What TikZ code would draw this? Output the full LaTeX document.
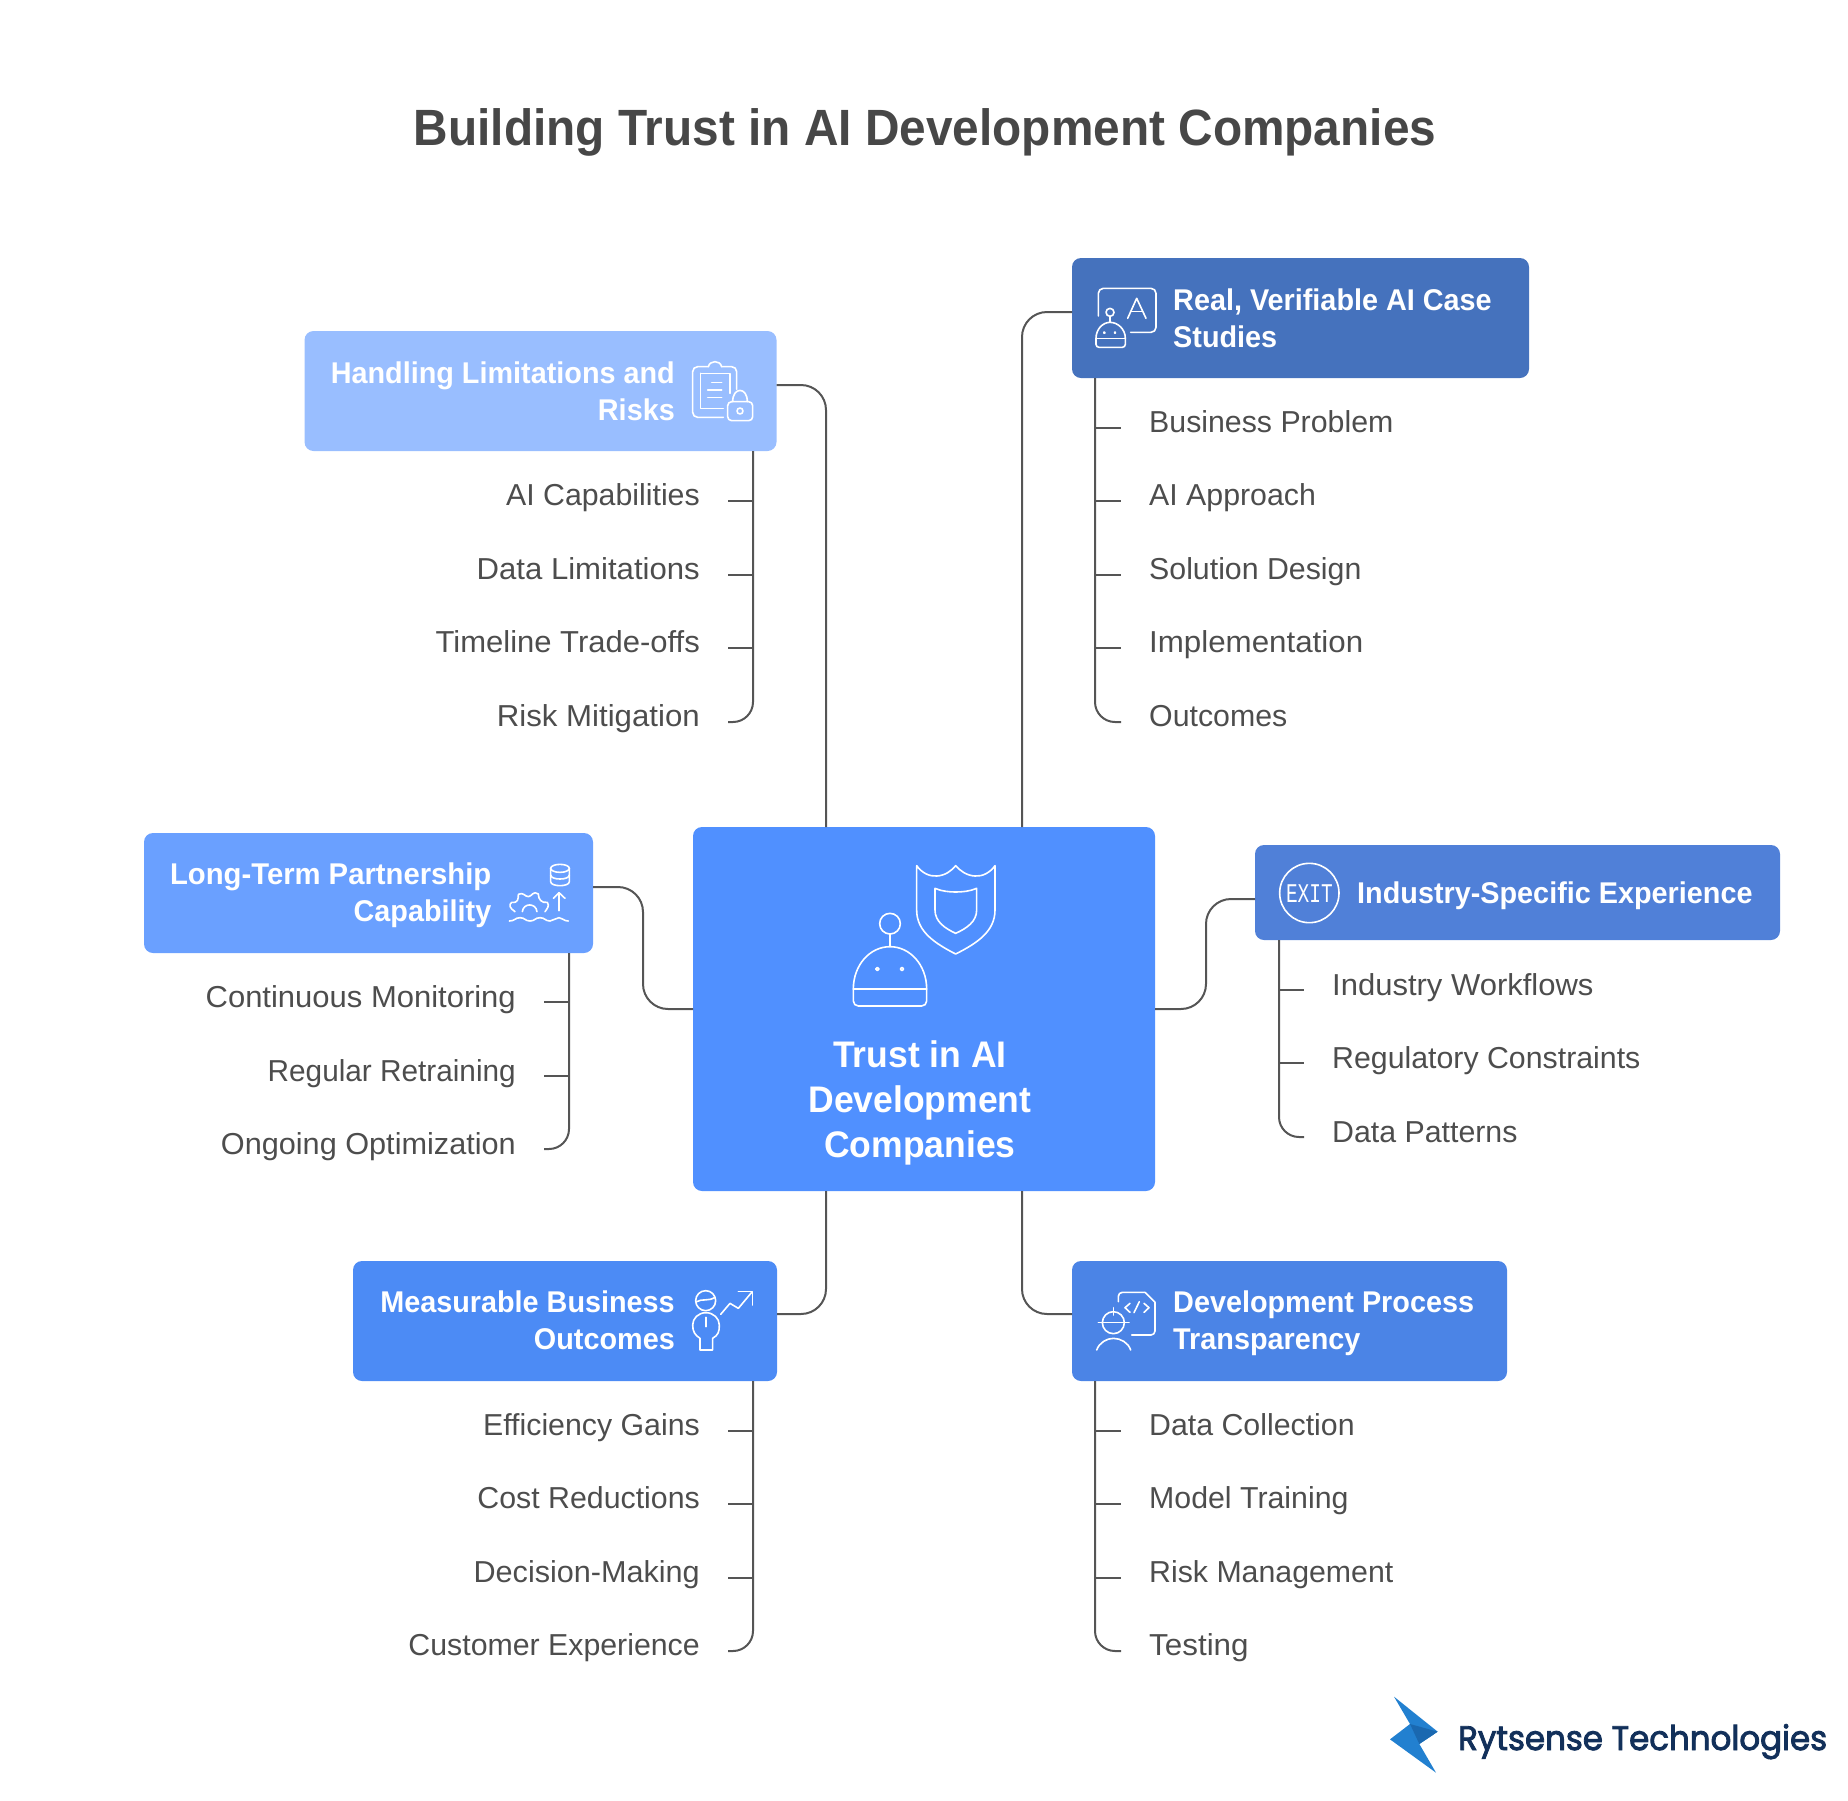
\documentclass[tikz,border=0pt]{standalone}
\usepackage{fontspec}
\setmainfont{Liberation Sans}
\newfontfamily\boldf[FakeStretch=.96]{Liberation Sans Bold}
\newfontfamily\titlef[FakeStretch=.937]{Liberation Sans Bold}
\newfontfamily\exitf[FakeStretch=.72]{Liberation Mono}
\newfontfamily\logof[FakeBold=2.5,FakeStretch=.955]{Poppins}
\newcommand{\sx}[2]{{\addfontfeature{FakeStretch=#1}#2}}
\newcommand{\leafdy}{4}
\definecolor{txt}{HTML}{4D4D4D}
\definecolor{ttl}{HTML}{474747}
\definecolor{line}{HTML}{555555}
\definecolor{cMain}{HTML}{5090FF}
\definecolor{cHand}{HTML}{99BEFF}
\definecolor{cReal}{HTML}{4572BD}
\definecolor{cInd}{HTML}{5080D8}
\definecolor{cLong}{HTML}{6AA0FF}
\definecolor{cMeas}{HTML}{4C8BF5}
\definecolor{cDev}{HTML}{4B84E6}
\definecolor{cLogoA}{HTML}{2280D0}
\definecolor{cLogoB}{HTML}{1A68B0}
\definecolor{cLogoT}{HTML}{12305A}
\tikzset{
  conn/.style={draw=line,line width=2pt},
  curved/.style={conn,rounded corners=25pt},
  hook/.style={conn,rounded corners=20pt},
  boxn/.style={rounded corners=9pt,inner sep=0pt,draw=none},
  hd/.style={text=white,inner sep=0pt,font=\boldf\fontsize{30}{37}\selectfont},
  leaftxt/.style={text=txt,inner sep=0pt,font=\fontsize{30.3}{36}\selectfont},
  icon/.style={draw=white,line width=1.6pt,line cap=round,line join=round},
}
\newcommand{\leafR}[4]{% name, tick x, tick y, text: text to the right of the tick
  \coordinate (#1t) at (#2,#3);
  \node[leaftxt,anchor=base west] (#1) at (#2+28,#3+\leafdy) {#4};}
\newcommand{\leafL}[4]{% text to the left of the tick
  \coordinate (#1t) at (#2,#3);
  \node[leaftxt,anchor=base east] (#1) at (#2-28,#3+\leafdy) {#4};}
\begin{document}
\begin{tikzpicture}[x=1pt,y=-1pt]
\useasboundingbox (0,0) rectangle (1848,1800);

\node[text=ttl,inner sep=0pt,anchor=base,font=\titlef\fontsize{51}{60}\selectfont] (title) at (925,145) {Building Trust in AI Development Companies};

% boxes
\node[boxn,fill=cMain,minimum width=462pt,minimum height=364pt] (main) at (924,1009) {};
\node[boxn,fill=cHand,minimum width=472pt,minimum height=120pt] (hand) at (540.5,391) {};
\node[boxn,fill=cReal,minimum width=457pt,minimum height=120pt] (real) at (1300.5,318) {};
\node[boxn,fill=cInd,minimum width=525pt,minimum height=95pt] (ind) at (1517.5,892.5) {};
\node[boxn,fill=cLong,minimum width=449pt,minimum height=120pt] (long) at (368.5,893) {};
\node[boxn,fill=cMeas,minimum width=424pt,minimum height=120pt] (meas) at (565,1321) {};
\node[boxn,fill=cDev,minimum width=435pt,minimum height=120pt] (dev) at (1289.5,1321) {};

% heading texts
\node[hd,align=center,font=\boldf\fontsize{37}{45}\selectfont] (maintxt) at (920,1103) {Trust in AI\\Development\\Companies};
\node[hd,align=right,anchor=east] (handtxt) at (675,391) {Handling Limitations and\\Risks};
\node[hd,align=left,anchor=west] (realtxt) at (1173,318) {Real, Verifiable AI Case\\Studies};
\node[hd,anchor=west] (indtxt) at (1357,896) {Industry-Specific Experience};
\node[hd,align=right,anchor=east] (longtxt) at (491.5,895.5) {\sx{.975}{Long-Term Partnership}\\Capability};
\node[hd,align=right,anchor=east] (meastxt) at (675,1320.5) {Measurable Business\\Outcomes};
\node[hd,align=left,anchor=west] (devtxt) at (1173,1323.5) {Development Process\\Transparency};

% connector anchors
\coordinate (mTL) at (826,827);
\coordinate (mTR) at (1022,827);
\coordinate (mBL) at (826,1191);
\coordinate (mBR) at (1022,1191);
\coordinate (mL) at (693,1009);
\coordinate (mR) at (1155,1009);
\coordinate (handout) at (776.5,385);
\coordinate (realin) at (1072,312);
\coordinate (indin) at (1255,899);
\coordinate (longin) at (593,887);
\coordinate (measin) at (777,1314);
\coordinate (devin) at (1072,1314);
\coordinate (indmid) at (1206,0);
\coordinate (longmid) at (643,0);

\draw[curved] (handout) -| (mTL);
\draw[curved] (realin) -| (mTR);
\draw[curved] (measin) -| (mBL);
\draw[curved] (devin) -| (mBR);
\draw[curved] (mR) -- (mR -| indmid) -- (indin -| indmid) -- (indin);
\draw[curved] (mL) -- (mL -| longmid) -- (longin -| longmid) -- (longin);

% leaves: Real
\coordinate (rtop) at (1095,378);
\leafR{r1}{1121}{428}{Business Problem}
\leafR{r2}{1121}{501}{AI Approach}
\leafR{r3}{1121}{575}{Solution Design}
\leafR{r4}{1121}{648}{\sx{1.033}{Implementation}}
\leafR{r5}{1121}{722}{Outcomes}
\foreach \n in {r1,r2,r3,r4} \draw[conn] (rtop |- \n t) -- (\n t);
\draw[hook] (rtop) |- (r5t);

% leaves: Handling
\coordinate (htop) at (753,451);
\leafL{h1}{728}{501}{AI Capabilities}
\leafL{h2}{728}{575}{\sx{1.027}{Data Limitations}}
\leafL{h3}{728}{648}{\sx{1.023}{Timeline Trade-offs}}
\leafL{h4}{728}{722}{\sx{1.03}{Risk Mitigation}}
\foreach \n in {h1,h2,h3} \draw[conn] (htop |- \n t) -- (\n t);
\draw[hook] (htop) |- (h4t);

\renewcommand{\leafdy}{5}
% leaves: Long-term
\coordinate (ltop) at (569,953);
\leafL{l1}{544}{1002}{\sx{1.023}{Continuous Monitoring}}
\leafL{l2}{544}{1076}{\sx{.982}{Regular Retraining}}
\leafL{l3}{544}{1149}{\sx{1.012}{Ongoing Optimization}}
\foreach \n in {l1,l2} \draw[conn] (ltop |- \n t) -- (\n t);
\draw[hook] (ltop) |- (l3t);

% leaves: Industry
\coordinate (itop) at (1279,940);
\leafR{i1}{1304}{990}{\sx{1.023}{Industry Workflows}}
\leafR{i2}{1304}{1063}{Regulatory Constraints}
\leafR{i3}{1304}{1137}{Data Patterns}
\foreach \n in {i1,i2} \draw[conn] (itop |- \n t) -- (\n t);
\draw[hook] (itop) |- (i3t);
\renewcommand{\leafdy}{4}

% leaves: Measurable
\coordinate (mtop) at (753,1381);
\leafL{m1}{728}{1431}{Efficiency Gains}
\leafL{m2}{728}{1504}{Cost Reductions}
\leafL{m3}{728}{1578}{\sx{1.01}{Decision-Making}}
\leafL{m4}{728}{1651}{Customer Experience}
\foreach \n in {m1,m2,m3} \draw[conn] (mtop |- \n t) -- (\n t);
\draw[hook] (mtop) |- (m4t);

% leaves: Development
\coordinate (dtop) at (1095,1381);
\leafR{d1}{1121}{1431}{Data Collection}
\leafR{d2}{1121}{1504}{Model Training}
\leafR{d3}{1121}{1578}{Risk Management}
\leafR{d4}{1121}{1651}{\sx{1.035}{Testing}}
\foreach \n in {d1,d2,d3} \draw[conn] (dtop |- \n t) -- (\n t);
\draw[hook] (dtop) |- (d4t);

% icon: centre
\begin{scope}[shift={(680,820)},x=0.33333pt,y=-0.33333pt,icon]
  \draw (710,137) .. controls (725,158) and (748,170) .. (770,168) .. controls (795,167) and (815,152) .. (827,137)
        .. controls (840,152) and (860,167) .. (885,168) .. controls (907,170) and (930,158) .. (945,137)
        -- (945,270) .. controls (945,335) and (890,370) .. (827,402) .. controls (765,370) and (710,335) .. (710,270) -- cycle;
  \draw (765,205) .. controls (785,214) and (810,216) .. (827,216) .. controls (845,216) and (870,214) .. (890,205)
        -- (890,270) .. controls (890,305) and (860,325) .. (827,340) .. controls (795,325) and (765,305) .. (765,270) -- cycle;
  \draw (630,311) circle[radius=31];
  \draw (630,342) -- (630,380);
  \draw (520,507) .. controls (520,435) and (570,380) .. (630,380) .. controls (690,380) and (740,435) .. (740,507);
  \draw[rounded corners=5pt] (520,507) -- (520,558) -- (740,558) -- (740,507);
  \draw (520,507) -- (740,507);
  \draw (592,447) circle[radius=5];
  \draw (666,447) circle[radius=5];
\end{scope}

% icon: real
\begin{scope}[shift={(1060,250)},x=0.33333pt,y=-0.33333pt,icon]
  \draw[rounded corners=5pt] (115,198) -- (115,115) -- (288,115) -- (288,247) -- (212,247);
  \draw (203,205) -- (230,145) -- (258,205);
  \draw (212,185) -- (248,185);
  \draw (150,187) circle[radius=12];
  \draw (150,199) -- (150,217);
  \draw (108,265) .. controls (108,238) and (128,217) .. (150,217) .. controls (174,217) and (196,238) .. (196,265);
  \draw[rounded corners=3pt] (108,265) -- (108,292) -- (196,292) -- (196,265);
  \draw (108,265) -- (196,265);
  \draw (133,248) circle[radius=2];
  \draw (165,248) circle[radius=2];
\end{scope}

% icon: handling
\begin{scope}[shift={(660,330)},x=0.33333pt,y=-0.33333pt,icon]
  \draw[rounded corners=5pt] (190,262) -- (98,262) -- (98,110) -- (145,110);
  \draw (145,110) .. controls (150,90) and (180,90) .. (185,110);
  \draw[rounded corners=5pt] (185,110) -- (230,110) -- (230,178);
  \draw (122,130) -- (122,235) -- (190,235);
  \draw (122,130) -- (210,130) -- (210,190);
  \draw (155,157) -- (185,157);
  \draw (143,180) -- (185,180);
  \draw (143,203) -- (185,203);
  \draw[rounded corners=4pt] (203,215) rectangle (278,272);
  \draw (218,215) .. controls (218,170) and (262,170) .. (262,215);
  \draw (240,243) circle[radius=9];
\end{scope}

% icon: long-term
\begin{scope}[shift={(490,840)},x=0.33333pt,y=-0.33333pt,icon]
  \draw (210,85) ellipse[x radius=28,y radius=12];
  \draw (182,85) -- (182,125) .. controls (182,141) and (238,141) .. (238,125) -- (238,85);
  \draw (182,105) .. controls (182,121) and (238,121) .. (238,105);
  \draw (207,212) -- (207,158);
  \draw (190,175) -- (207,158) -- (225,175);
  \draw (75,215) .. controls (60,205) and (55,195) .. (65,187) .. controls (85,190) and (85,175) .. (85,163)
     .. controls (100,155) and (105,170) .. (115,170) .. controls (125,170) and (130,150) .. (145,162)
     .. controls (145,178) and (155,190) .. (172,187) .. controls (180,197) and (170,208) .. (165,215);
  \draw (97,215) .. controls (100,188) and (138,188) .. (141,215);
  \draw (58,243) .. controls (75,243) and (75,233) .. (90,233) .. controls (105,233) and (105,243) .. (120,243)
     .. controls (135,243) and (135,233) .. (150,233) .. controls (165,233) and (165,243) .. (180,243)
     .. controls (192,243) and (195,233) .. (207,233) .. controls (218,233) and (220,243) .. (235,243);
\end{scope}

% icon: industry
\begin{scope}[shift={(1260,840)},x=0.33333pt,y=-0.33333pt,icon]
  \draw (148,159) circle[radius=89];
  \node[text=white,inner sep=0pt,font=\exitf\fontsize{27}{27}\selectfont] (exit) at (148,162) {EXIT};
\end{scope}

% icon: measurable
\begin{scope}[shift={(680,1270)},x=0.33333pt,y=-0.33333pt,icon]
  \draw (77,92) circle[radius=30];
  \draw (50,95) .. controls (65,85) and (85,95) .. (105,82);
  \draw (60,240) -- (98,240) -- (98,205) .. controls (115,195) and (118,185) .. (118,165) .. controls (118,145) and (100,128) .. (78,128)
     .. controls (55,128) and (38,145) .. (38,165) .. controls (38,185) and (45,195) .. (60,205) -- cycle;
  \draw (78,142) -- (78,170);
  \draw (122,133) -- (150,100) -- (175,115) -- (215,67);
  \draw (175,65) -- (217,65) -- (217,105);
\end{scope}

% icon: development
\begin{scope}[shift={(1080,1270)},x=0.33333pt,y=-0.33333pt,icon]
  \draw[rounded corners=4pt] (115,95) -- (115,67) -- (195,67);
  \draw (195,67) -- (225,97);
  \draw[rounded corners=4pt] (225,97) -- (225,195) -- (155,195);
  \draw (150,100) -- (135,113) -- (150,127);
  \draw (162,128) -- (178,95);
  \draw (192,100) -- (207,113) -- (192,127);
  \draw (100,158) circle[radius=33];
  \draw (55,158) -- (147,158);
  \draw (100,113) -- (100,135);
  \draw (50,240) .. controls (58,218) and (80,205) .. (100,205) .. controls (122,205) and (145,218) .. (152,240);
\end{scope}

% logo
\begin{scope}[shift={(1370,1680)},x=0.33333pt,y=-0.33333pt]
  \fill[cLogoA] (72,50) -- (203,155) -- (148,192) -- (198,278) -- (60,178) -- (120,132) -- cycle;
  \fill[cLogoB] (120,132) -- (203,155) -- (148,192) -- cycle;
\end{scope}
\node[text=cLogoT,inner sep=0pt,anchor=base west,font=\logof\fontsize{34}{40}\selectfont] (logotxt) at (1458,1750) {Rytsense Technologies};
\end{tikzpicture}
\end{document}
